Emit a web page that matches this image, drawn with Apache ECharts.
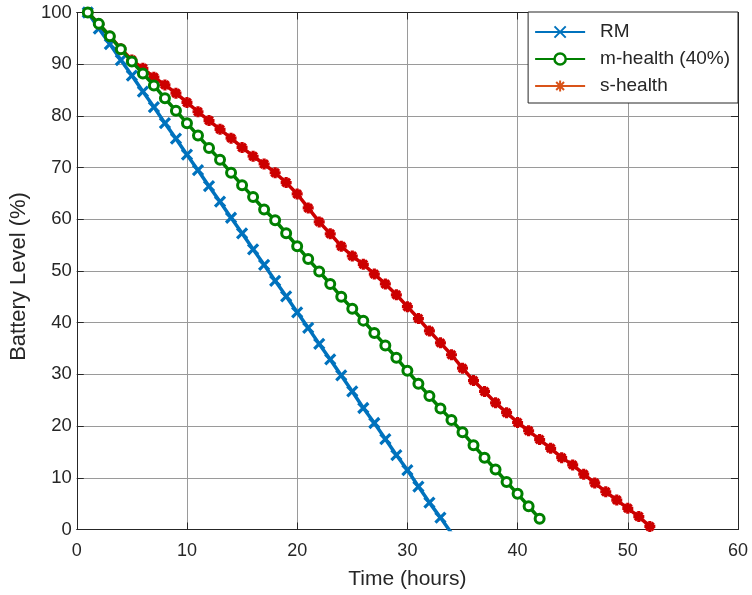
<!DOCTYPE html>
<html>
<head>
<meta charset="utf-8">
<script src="https://cdn.jsdelivr.net/npm/echarts@6/dist/echarts.min.js"></script>
<style>
html,body{margin:0;padding:0;background:#fff;}
#chart{width:752px;height:595px;}
</style>
</head>
<body>
<div id="chart"></div>
<script>
// ---- data ----
const xTicks = [0, 10, 20, 30, 40, 50, 60];
const yTicks = [0, 10, 20, 30, 40, 50, 60, 70, 80, 90, 100];

const rmTime = [1,2,3,4,5,6,7,8,9,10,11,12,13,14,15,16,17,18,19,20,21,22,23,24,25,26,27,28,29,30,31,32,33,34];
const rmLevel = [100,96.9,93.9,90.8,87.8,84.7,81.7,78.6,75.6,72.5,69.5,66.4,63.4,60.3,57.3,54.2,51.2,48.1,45.1,42.0,39.0,35.9,32.9,29.8,26.7,23.5,20.6,17.5,14.4,11.5,8.3,5.2,2.3,-0.7];

const mhTime = [1,2,3,4,5,6,7,8,9,10,11,12,13,14,15,16,17,18,19,20,21,22,23,24,25,26,27,28,29,30,31,32,33,34,35,36,37,38,39,40,41,42];
const mhLevel = [100,97.8,95.4,92.9,90.5,88.2,85.9,83.4,81.0,78.6,76.2,73.8,71.5,69.0,66.6,64.3,61.9,59.8,57.3,54.8,52.3,49.9,47.5,45.0,42.7,40.4,38.0,35.6,33.2,30.7,28.2,25.8,23.4,21.2,18.8,16.3,13.9,11.6,9.2,6.9,4.5,2.1];

const shTime = [1,2,3,4,5,6,7,8,9,10,11,12,13,14,15,16,17,18,19,20,21,22,23,24,25,26,27,28,29,30,31,32,33,34,35,36,37,38,39,40,41,42,43,44,45,46,47,48,49,50,51,52];
const shLevel = [100,97.8,95.4,93.0,90.8,89.2,87.5,86.0,84.4,82.6,80.8,79.1,77.4,75.7,73.9,72.2,70.7,69.0,67.1,64.9,62.2,59.5,57.2,54.8,52.9,51.3,49.4,47.5,45.4,43.1,40.8,38.4,36.1,33.8,31.2,28.8,26.7,24.5,22.6,20.7,19.1,17.4,15.7,13.9,12.5,10.7,9.0,7.3,5.7,4.1,2.5,0.6];

const seriesNames = ['RM', 'm-health (40%)', 's-health'];

function pairs(t, v) { return t.map((x, i) => [x, v[i]]); }

const TXT = '#262626';
const FONT = 'Liberation Sans, Arial, sans-serif';
const GRIDC = '#9a9a9a';

const xMark = 'path://M0,0L10,10M10,0L0,10';
const starMark = 'path://M5,0L5,10M0,5L10,5M1.5,1.5L8.5,8.5M8.5,1.5L1.5,8.5';

const chart = echarts.init(document.getElementById('chart'), null, {renderer: 'canvas'});

const option = {
  animation: false,
  backgroundColor: '#fff',
  textStyle: {fontFamily: FONT, color: TXT},
  grid: {left: 71.5, right: 14, top: 12.5, bottom: 65.5, containLabel: false},
  xAxis: [{
    type: 'value', min: xTicks[0], max: xTicks[xTicks.length - 1], interval: 10,
    name: 'Time (hours)', nameLocation: 'middle', nameGap: 39,
    nameTextStyle: {fontSize: 21, color: TXT, fontFamily: FONT},
    axisLine: {show: true, onZero: false, lineStyle: {color: TXT, width: 1}},
    axisTick: {show: true, inside: true, length: 7, lineStyle: {color: TXT}},
    axisLabel: {fontSize: 18, color: TXT, margin: 13, fontFamily: FONT},
    splitLine: {show: true, lineStyle: {color: GRIDC, width: 1}}
  }, {
    type: 'value', position: 'top', min: 0, max: 60, interval: 10,
    axisLine: {show: true, onZero: false, lineStyle: {color: TXT, width: 1}},
    axisTick: {show: true, inside: true, length: 7, lineStyle: {color: TXT}},
    axisLabel: {show: false}, splitLine: {show: false}
  }],
  yAxis: [{
    type: 'value', min: yTicks[0], max: yTicks[yTicks.length - 1], interval: 10,
    name: 'Battery Level (%)', nameLocation: 'middle', nameGap: 40,
    nameTextStyle: {fontSize: 22, color: TXT, fontFamily: FONT, padding: [0, 11, 0, 0]},
    axisLine: {show: true, onZero: false, lineStyle: {color: TXT, width: 1}},
    axisTick: {show: true, inside: true, length: 7, lineStyle: {color: TXT}},
    axisLabel: {fontSize: 18.5, color: TXT, margin: 5, fontFamily: FONT},
    splitLine: {show: true, lineStyle: {color: GRIDC, width: 1}}
  }, {
    type: 'value', position: 'right', min: 0, max: 100, interval: 10,
    axisLine: {show: true, onZero: false, lineStyle: {color: TXT, width: 1}},
    axisTick: {show: true, inside: true, length: 7, lineStyle: {color: TXT}},
    axisLabel: {show: false}, splitLine: {show: false}
  }],
  legend: {
    orient: 'vertical', right: 14, top: 12,
    backgroundColor: '#fff', borderColor: TXT, borderWidth: 1, borderRadius: 0,
    padding: [9, 8, 6, 6], itemGap: 5, itemWidth: 50, itemHeight: 14,
    textStyle: {fontSize: 19, color: TXT, fontFamily: FONT, lineHeight: 22, padding: [0, 0, 0, 10]},
    data: [
      {name: seriesNames[0]},
      {name: seriesNames[1], itemStyle: {color: '#fff', borderColor: '#008000', borderWidth: 2.5}},
      {name: seriesNames[2], lineStyle: {color: '#D95319'}, itemStyle: {color: '#D95319', borderColor: '#D95319'}}
    ]
  },
  series: [
    {
      name: seriesNames[0], type: 'line', data: pairs(rmTime, rmLevel), clip: true,
      symbol: xMark, symbolSize: 10,
      lineStyle: {color: '#0072BD', width: 3.5},
      itemStyle: {color: '#0072BD', borderColor: '#0072BD', borderWidth: 3.2},
      z: 2
    },
    {
      name: seriesNames[2], type: 'line', data: pairs(shTime, shLevel), clip: true,
      symbol: starMark, symbolSize: 11,
      lineStyle: {color: '#CC0000', width: 3.5},
      itemStyle: {color: '#CC0000', borderColor: '#CC0000', borderWidth: 3.2},
      z: 3
    },
    {
      name: seriesNames[1], type: 'line', data: pairs(mhTime, mhLevel), clip: true,
      symbol: 'circle', symbolSize: 9,
      lineStyle: {color: '#008000', width: 3.5},
      itemStyle: {color: '#ffffff', borderColor: '#008000', borderWidth: 3},
      z: 4
    }
  ]
};
chart.setOption(option);
</script>
</body>
</html>
